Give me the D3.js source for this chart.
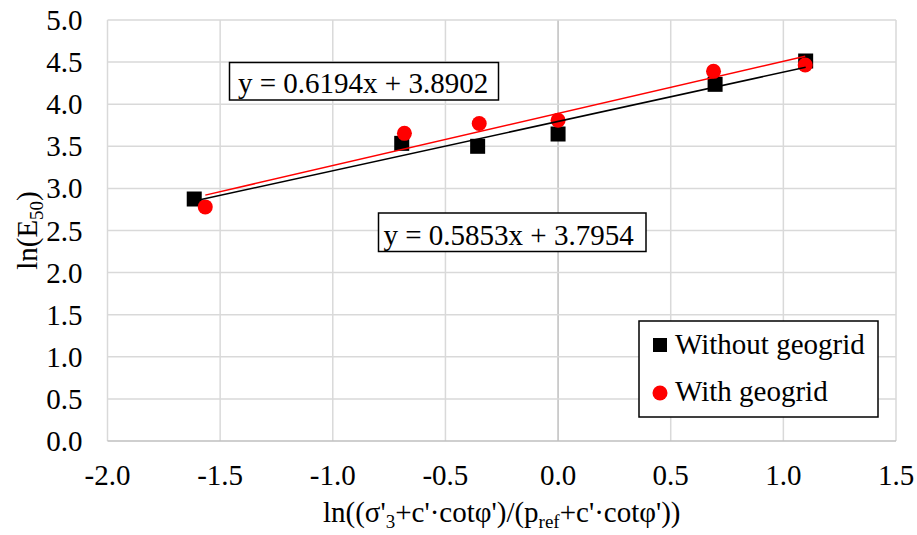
<!DOCTYPE html>
<html>
<head>
<meta charset="utf-8">
<script src="https://cdn.jsdelivr.net/npm/d3@7"></script>
<style>
  html, body { margin: 0; padding: 0; background: #fff; }
  svg { display: block; }
  text { font-family: "Liberation Serif"; }
</style>
</head>
<body>
<svg id="chart" width="917" height="535"></svg>
<script>
// ---- data ----
const xTicks = [-2.0, -1.5, -1.0, -0.5, 0.0, 0.5, 1.0, 1.5];
const yTicks = [0.0, 0.5, 1.0, 1.5, 2.0, 2.5, 3.0, 3.5, 4.0, 4.5, 5.0];
const xTickLabels = ["-2.0", "-1.5", "-1.0", "-0.5", "0.0", "0.5", "1.0", "1.5"];
const yTickLabels = ["0.0", "0.5", "1.0", "1.5", "2.0", "2.5", "3.0", "3.5", "4.0", "4.5", "5.0"];
const seriesNames = ["Without geogrid", "With geogrid"];
const withoutX = [-1.615, -0.694, -0.357, 0.0, 0.697, 1.099];
const withoutY = [2.874, 3.535, 3.500, 3.646, 4.236, 4.513];
const withX = [-1.566, -0.682, -0.350, 0.0, 0.690, 1.097];
const withY = [2.780, 3.654, 3.770, 3.810, 4.390, 4.466];
const slopes = [0.5853, 0.6194];
const intercepts = [3.7954, 3.8902];
const equations = ["y = 0.5853x + 3.7954", "y = 0.6194x + 3.8902"];

// ---- layout ----
const FONT = "Liberation Serif";
const svg = d3.select("#chart").style("font-family", FONT);
const L = 107.5, R = 896, T = 20, B = 441;
const x = d3.scaleLinear().domain([-2, 1.5]).range([L, R]);
const y = d3.scaleLinear().domain([0, 5]).range([B, T]);
const FS = 29;

function txt(sel) { return sel.style("font-family", FONT).style("font-size", FS + "px").attr("fill", "#000"); }

// grid
const g = svg.append("g");
g.selectAll(".vg").data(xTicks).join("line")
  .attr("x1", d => x(d)).attr("x2", d => x(d)).attr("y1", T).attr("y2", B)
  .attr("stroke", d => d === 0 ? "#bfbfbf" : "#d9d9d9").attr("stroke-width", 1.5);
g.selectAll(".hg").data(yTicks).join("line")
  .attr("x1", L).attr("x2", R).attr("y1", d => y(d)).attr("y2", d => y(d))
  .attr("stroke", d => d === 0 ? "#bfbfbf" : "#d9d9d9").attr("stroke-width", 1.5);

// tick labels
txt(svg.append("g").selectAll("text").data(xTicks).join("text"))
  .attr("x", d => x(d)).attr("y", B + 44).attr("text-anchor", "middle")
  .text((d, i) => xTickLabels[i]);
txt(svg.append("g").selectAll("text").data(yTicks).join("text"))
  .attr("x", L - 25).attr("y", d => y(d) + 10).attr("text-anchor", "end")
  .text((d, i) => yTickLabels[i]);

// markers
const sq = 15;
svg.append("g").selectAll("rect").data(withoutX.map((d, i) => [d, withoutY[i]])).join("rect")
  .attr("x", d => x(d[0]) - sq / 2).attr("y", d => y(d[1]) - sq / 2)
  .attr("width", sq).attr("height", sq).attr("fill", "#000");
svg.append("g").selectAll("circle").data(withX.map((d, i) => [d, withY[i]])).join("circle")
  .attr("cx", d => x(d[0])).attr("cy", d => y(d[1])).attr("r", 7.5).attr("fill", "#ff0000");

// trendlines
const xsets = [withoutX, withX];
const colors = ["#000000", "#ff0000"];
[0, 1].forEach(i => {
  const x0 = d3.min(xsets[i]), x1 = d3.max(xsets[i]);
  svg.append("line")
    .attr("x1", x(x0)).attr("y1", y(slopes[i] * x0 + intercepts[i]))
    .attr("x2", x(x1)).attr("y2", y(slopes[i] * x1 + intercepts[i]))
    .attr("stroke", colors[i]).attr("stroke-width", 1.5);
});

// equation boxes
const eqBoxes = [
  { x0: 378.5, y0: 213, w: 267.5, h: 38.5, tx: 383.5, ty: 245 },
  { x0: 229.5, y0: 62.5, w: 269, h: 37.5, tx: 238, ty: 92.5 }
];
eqBoxes.forEach((b, i) => {
  svg.append("rect").attr("x", b.x0).attr("y", b.y0).attr("width", b.w).attr("height", b.h)
    .attr("fill", "#fff").attr("stroke", "#000").attr("stroke-width", 1.5);
  txt(svg.append("text")).attr("x", b.tx).attr("y", b.ty).text(equations[i]);
});

// legend
svg.append("rect").attr("x", 639).attr("y", 321).attr("width", 239).attr("height", 96)
  .attr("fill", "#fff").attr("stroke", "#000").attr("stroke-width", 1.5);
svg.append("rect").attr("x", 653).attr("y", 338).attr("width", 14).attr("height", 14).attr("fill", "#000");
svg.append("circle").attr("cx", 660).attr("cy", 393).attr("r", 7.5).attr("fill", "#ff0000");
txt(svg.append("text")).attr("x", 675).attr("y", 354).text(seriesNames[0]);
txt(svg.append("text")).attr("x", 675).attr("y", 401).text(seriesNames[1]);

// axis titles
const xt = txt(svg.append("text")).attr("x", (L + R) / 2).attr("y", 522).attr("text-anchor", "middle");
xt.append("tspan").text("ln((σ'");
xt.append("tspan").style("font-size", "19px").attr("dy", 6).text("3");
xt.append("tspan").attr("dy", -6).text("+c'·cotφ')/(p");
xt.append("tspan").style("font-size", "19px").attr("dy", 6).text("ref");
xt.append("tspan").attr("dy", -6).text("+c'·cotφ'))");

const yt = txt(svg.append("text")).attr("transform", `translate(37,${(T + B) / 2}) rotate(-90)`)
  .attr("text-anchor", "middle");
yt.append("tspan").text("ln(E");
yt.append("tspan").style("font-size", "19px").attr("dy", 6).text("50");
yt.append("tspan").attr("dy", -6).text(")");
</script>
</body>
</html>
